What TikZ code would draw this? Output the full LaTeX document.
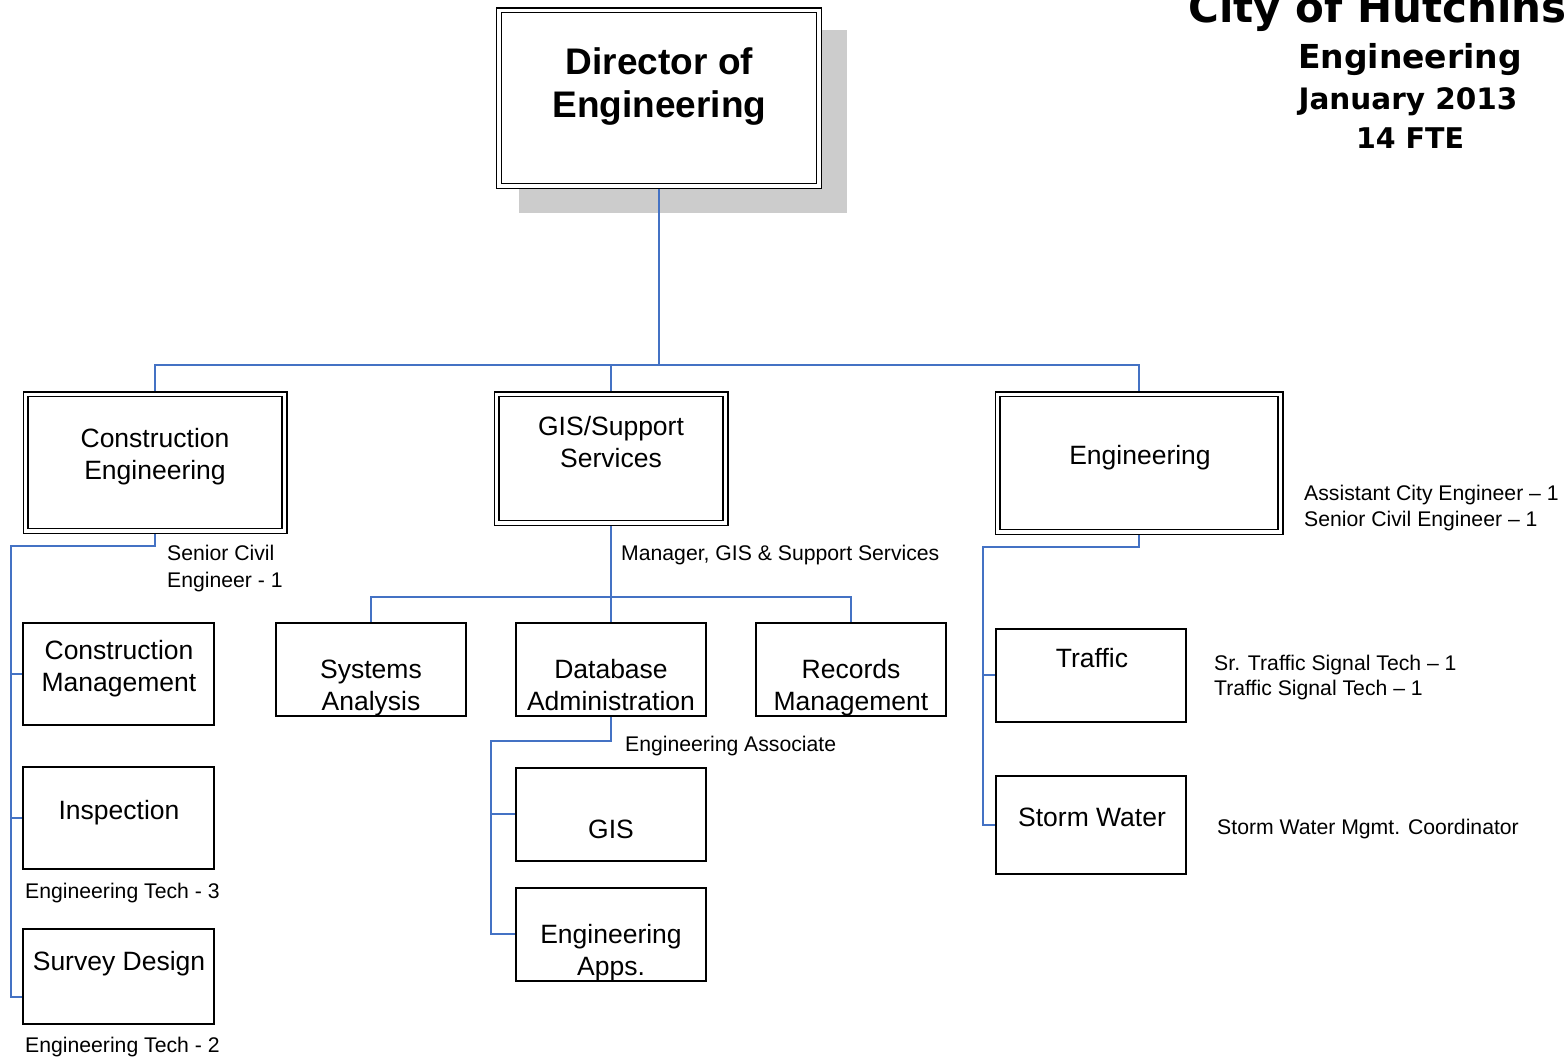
\documentclass[tikz,border=0pt]{standalone}
\usepackage{fontspec}
\setmainfont{Liberation Sans}
\newfontfamily\titlefont{DejaVu Sans}
\usetikzlibrary{backgrounds}
\definecolor{connblue}{RGB}{68,114,196}
\definecolor{shadegray}{RGB}{204,204,204}
\begin{document}
\begin{tikzpicture}[x=1pt,y=-1pt,
  dbox/.style={draw=black, double=white, double distance=3.2pt, line width=1.5pt, fill=white, inner sep=0pt, outer sep=0pt},
  sbox/.style={draw=black, line width=2pt, fill=white, inner sep=0pt, outer sep=0pt},
  conn/.style={draw=connblue, line width=1.8pt},
  bigtxt/.style={font=\fontsize{26.5}{32}\selectfont, anchor=base, inner sep=0pt},
  dirtxt/.style={font=\bfseries\fontsize{37}{42}\selectfont, anchor=base, inner sep=0pt},
  smalltxt/.style={font=\fontsize{21.2}{25}\selectfont, anchor=base west, inner sep=0pt},
  titletxt/.style={anchor=base, inner sep=0pt}]
\useasboundingbox (0,0) rectangle (1568,1060);

% ---------- boxes ----------
\node[dbox, minimum width=320pt, minimum height=175.8pt] (dir) at (659,98) {};
\node[dbox, minimum width=258.8pt, minimum height=136.8pt] (ce) at (155,462.5) {};
\node[dbox, minimum width=228.8pt, minimum height=128.8pt] (gss) at (611,458.5) {};
\node[dbox, minimum width=282.8pt, minimum height=137.8pt] (eng) at (1139,463) {};

\node[sbox, minimum width=190pt, minimum height=93pt] (sa) at (371,669.5) {};
\node[sbox, minimum width=190pt, minimum height=93pt] (db) at (611,669.5) {};
\node[sbox, minimum width=190pt, minimum height=93pt] (rm) at (851,669.5) {};

\node[sbox, minimum width=191pt, minimum height=102pt] (cm) at (118.5,674) {};
\node[sbox, minimum width=191pt, minimum height=102pt] (insp) at (118.5,818) {};
\node[sbox, minimum width=191pt, minimum height=95pt] (sd) at (118.5,976.5) {};

\node[sbox, minimum width=190pt, minimum height=93pt] (gis) at (611,814) {};
\node[sbox, minimum width=190pt, minimum height=93pt] (apps) at (611,934) {};

\node[sbox, minimum width=190pt, minimum height=93pt] (traf) at (1091,675) {};
\node[sbox, minimum width=190pt, minimum height=98pt] (storm) at (1091,825) {};

% ---------- shadow and connectors ----------
\begin{pgfonlayer}{background}
\node[fill=shadegray, minimum width=328pt, minimum height=183pt, inner sep=0pt, outer sep=0pt] (dirshadow) at (683,121.5) {};
\coordinate (busA) at (0,365);
\coordinate (busB) at (0,597);
\coordinate (busL) at (11,546);
\coordinate (busD) at (491,741);
\coordinate (busE) at (983,547);
\coordinate (sdjoin) at ([yshift=-20.5pt]sd.west);

\draw[conn] (dir.south) -- (dir.south |- busA);
\draw[conn] (ce.north) -- (ce.north |- busA) -- (eng.north |- busA) -- (eng.north);
\draw[conn] (gss.north) -- (gss.north |- busA);

\draw[conn] (gss.south) -- (db.north);
\draw[conn] (sa.north) -- (sa.north |- busB) -- (rm.north |- busB) -- (rm.north);

\draw[conn] (ce.south) -- (ce.south |- busL) -- (busL) -- (busL |- sdjoin) -- (sdjoin);
\draw[conn] (busL |- cm.west) -- (cm.west);
\draw[conn] (busL |- insp.west) -- (insp.west);

\draw[conn] (db.south) -- (db.south |- busD) -- (busD) -- (busD |- apps.west) -- (apps.west);
\draw[conn] (busD |- gis.west) -- (gis.west);

\draw[conn] (eng.south) -- (eng.south |- busE) -- (busE) -- (busE |- storm.west) -- (storm.west);
\draw[conn] (busE |- traf.west) -- (traf.west);
\end{pgfonlayer}

% ---------- box texts ----------
\node[dirtxt] (dirt1) at (659.5,74) {Director of};
\node[dirtxt] (dirt2) at (659.5,117) {Engineering};

\node[bigtxt] (cet1) at (155,447.5) {Construction};
\node[bigtxt] (cet2) at (155,479.5) {Engineering};
\node[bigtxt] (gsst1) at (611,435.5) {GIS/Support};
\node[bigtxt] (gsst2) at (611,467.5) {Services};
\node[bigtxt] (engt) at (1140,464.5) {Engineering};

\node[bigtxt] (sat1) at (371,678.5) {Systems};
\node[bigtxt] (sat2) at (371,710.5) {Analysis};
\node[bigtxt] (dbt1) at (611,678.5) {Database};
\node[bigtxt] (dbt2) at (611,710.5) {Administration};
\node[bigtxt] (rmt1) at (851,678.5) {Records};
\node[bigtxt] (rmt2) at (851,710.5) {Management};

\node[bigtxt] (cmt1) at (119,659.5) {Construction};
\node[bigtxt] (cmt2) at (119,691.5) {Management};
\node[bigtxt] (inspt) at (119,819.5) {Inspection};
\node[bigtxt] (sdt) at (119,970.5) {Survey Design};

\node[bigtxt] (gist) at (611,838.5) {GIS};
\node[bigtxt] (appst1) at (611,943.5) {Engineering};
\node[bigtxt] (appst2) at (611,975.5) {Apps.};

\node[bigtxt] (traft) at (1092,667.5) {Traffic};
\node[bigtxt] (stormt) at (1092,826.5) {Storm Water};

% ---------- side labels ----------
\node[smalltxt] (l1) at (167,560.5) {Senior Civil};
\node[smalltxt] (l2) at (167,587.5) {Engineer - 1};
\node[smalltxt] (l3) at (621,560.5) {Manager, GIS \& Support Services};
\node[smalltxt] (l4) at (1304,500.5) {Assistant City Engineer – 1};
\node[smalltxt] (l5) at (1304,526.5) {Senior Civil Engineer – 1};
\node[smalltxt] (l6) at (1214,670.5) {Sr. Traffic Signal Tech – 1};
\node[smalltxt] (l7) at (1214,695.5) {Traffic Signal Tech – 1};
\node[smalltxt] (l8) at (1217,834.5) {Storm Water Mgmt. Coordinator};
\node[smalltxt] (l9) at (625,751.5) {Engineering Associate};
\node[smalltxt] (l10) at (25,898.5) {Engineering Tech - 3};
\node[smalltxt] (l11) at (25,1052.5) {Engineering Tech - 2};

% ---------- title ----------
\node[titletxt, font=\titlefont\bfseries\fontsize{42}{46}\selectfont] (tt1) at (1377.5,22) {City of Hutchins};
\node[titletxt, font=\titlefont\bfseries\fontsize{33}{36}\selectfont] (tt2) at (1410,68) {Engineering};
\node[titletxt, font=\titlefont\bfseries\fontsize{29.5}{32}\selectfont] (tt3) at (1408,109) {January 2013};
\node[titletxt, font=\titlefont\bfseries\fontsize{28.5}{32}\selectfont] (tt4) at (1410,148) {14 FTE};
\end{tikzpicture}
\end{document}
